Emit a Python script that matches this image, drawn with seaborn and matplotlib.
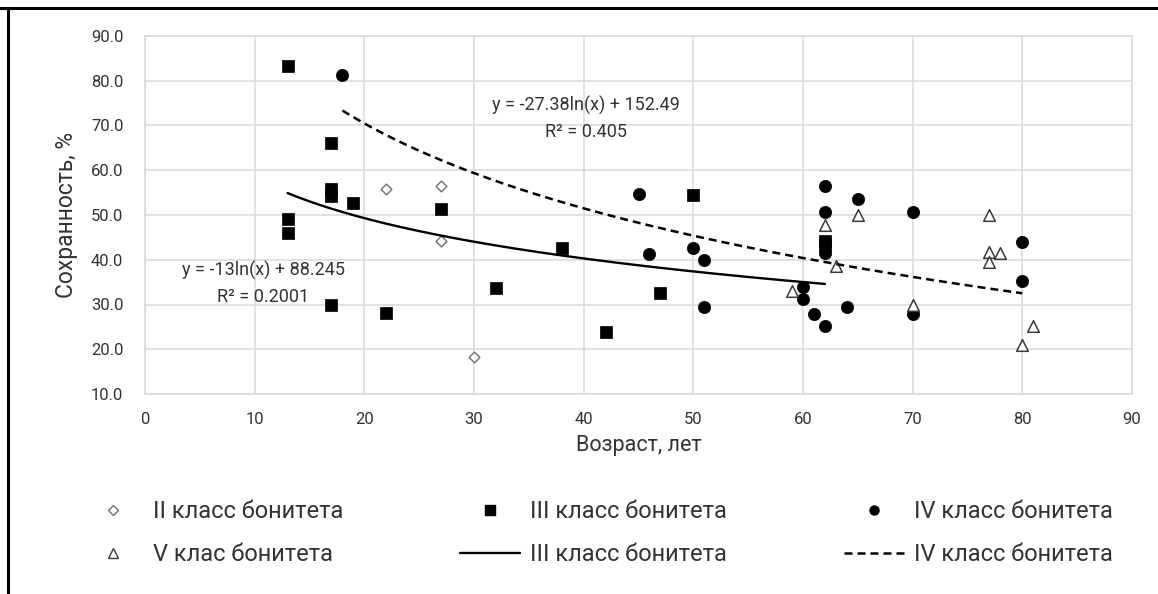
import numpy as np
import pandas as pd
import matplotlib
matplotlib.use("Agg")
import matplotlib.pyplot as plt
import seaborn as sns
from matplotlib.lines import Line2D
from matplotlib.ticker import FormatStrFormatter

# ---- data ----
ii_age = [22, 27, 27, 30]
ii_val = [55.8, 56.5, 44.2, 18.2]

iii_age = [13, 13, 13, 17, 17, 17, 17, 19, 22, 27, 32, 38, 42, 47, 50, 62, 62]
iii_val = [83.3, 49.0, 46.0, 66.0, 55.9, 54.2, 30.0, 52.6, 28.1, 51.3, 33.6,
           42.6, 23.9, 32.6, 54.5, 44.3, 43.3]

iv_age = [18, 45, 46, 50, 51, 51, 60, 60, 61, 62, 62, 62, 62, 64, 65, 70, 70, 80, 80]
iv_val = [81.2, 54.8, 41.3, 42.6, 40.0, 29.4, 34.0, 31.2, 27.8, 56.4, 50.6,
          41.4, 25.2, 29.4, 53.5, 50.6, 27.8, 43.9, 35.2]

v_age = [59, 62, 63, 65, 70, 77, 77, 77, 78, 80, 81]
v_val = [33.0, 47.8, 38.6, 50.0, 30.0, 50.0, 41.8, 39.6, 41.6, 21.0, 25.1]

# logarithmic trend coefficients (y = a*ln(x) + b) shown on the chart
iii_a, iii_b, iii_r2 = -13.0, 88.245, 0.2001
iv_a, iv_b, iv_r2 = -27.38, 152.49, 0.405

x_ticks = list(range(0, 91, 10))
y_ticks = list(range(10, 91, 10))

labels = ["II класс бонитета", "III класс бонитета", "IV класс бонитета",
          "V клас бонитета", "III класс бонитета", "IV класс бонитета"]

# ---- style ----
sns.set_theme(style="white")
plt.rcParams["font.family"] = ["Roboto", "DejaVu Sans"]
txt = "#333333"

W, H = 1158, 594
fig = plt.figure(figsize=(W / 100, H / 100), dpi=100)
ax = fig.add_axes([145 / W, 1 - 394 / H, (1132 - 145) / W, (394 - 36) / H])

grid_c = "#d9d9d9"
ax.grid(True, color=grid_c, lw=1.1)
ax.set_axisbelow(True)
for s in ax.spines.values():
    s.set_color(grid_c)
    s.set_linewidth(1.1)

# scatter points
sns.scatterplot(x=ii_age, y=ii_val, ax=ax, marker="D", s=30, color="white",
                edgecolor="#6e6e6e", linewidth=1.0, zorder=3, legend=False)
sns.scatterplot(x=iii_age, y=iii_val, ax=ax, marker="s", s=72, color="black",
                edgecolor="black", linewidth=0.5, zorder=3, legend=False)
sns.scatterplot(x=iv_age, y=iv_val, ax=ax, marker="o", s=78, color="black",
                edgecolor="black", linewidth=0.5, zorder=3, legend=False)
sns.scatterplot(x=v_age, y=v_val, ax=ax, marker="^", s=70, color="white",
                edgecolor="#3a3a3a", linewidth=1.1, zorder=3, legend=False)

# trend lines
xs3 = np.linspace(min(iii_age), max(iii_age), 200)
sns.lineplot(x=xs3, y=iii_a * np.log(xs3) + iii_b, ax=ax, color="black",
             lw=1.7, zorder=4)
xs4 = np.linspace(min(iv_age), max(iv_age), 200)
sns.lineplot(x=xs4, y=iv_a * np.log(xs4) + iv_b, ax=ax, color="black",
             lw=1.8, linestyle=(0, (3.2, 2.0)), zorder=4)

ax.set_xlim(0, 90)
ax.set_ylim(10, 90)
ax.set_xticks(x_ticks)
ax.set_yticks(y_ticks)
ax.yaxis.set_major_formatter(FormatStrFormatter("%.1f"))
ax.tick_params(length=0, labelsize=12, colors=txt)
ax.tick_params(axis="y", pad=15.5)
ax.tick_params(axis="x", pad=13)

ax.set_xlabel("Возраст, лет", fontsize=15.5, color=txt)
ax.set_ylabel("Сохранность, %", fontsize=16.5, color=txt)
ax.xaxis.set_label_coords(0.5, (394 - 446) / 358)
ax.xaxis.label.set_va("center")
ax.yaxis.set_label_coords((66 - 145) / 987, 0.5)
ax.yaxis.label.set_va("center")

# trend equations
eq_fs = 13
ax.text(10.8, 37.6, f"y = {iii_a:g}ln(x) + {iii_b:g}", ha="center", va="center",
        fontsize=eq_fs, color=txt)
ax.text(10.8, 31.6, f"R² = {iii_r2:g}", ha="center", va="center",
        fontsize=eq_fs, color=txt)
ax.text(40.2, 74.6, f"y = {iv_a:g}ln(x) + {iv_b:g}", ha="center", va="center",
        fontsize=eq_fs, color=txt)
ax.text(40.2, 68.6, f"R² = {iv_r2:g}", ha="center", va="center",
        fontsize=eq_fs, color=txt)

# legend (column-major order for a 2 x 3 layout)
h_ii = Line2D([], [], ls="none", marker="D", ms=5, mfc="white", mec="#6e6e6e", mew=1)
h_iii = Line2D([], [], ls="none", marker="s", ms=6.5, mfc="black", mec="black")
h_iv = Line2D([], [], ls="none", marker="o", ms=6.5, mfc="black", mec="black")
h_v = Line2D([], [], ls="none", marker="^", ms=6.5, mfc="white", mec="#3a3a3a", mew=1)
h_l3 = Line2D([], [], color="black", lw=1.7)
h_l4 = Line2D([], [], color="black", lw=1.8, ls=(0, (3.2, 2.0)))
handles = [h_ii, h_v, h_iii, h_l3, h_iv, h_l4]
leg_labels = [labels[0], labels[3], labels[1], labels[4], labels[2], labels[5]]
leg = fig.legend(handles, leg_labels, ncol=3, loc="center", mode="expand",
                 bbox_to_anchor=(83 / W, 1 - 600 / H, (1113 - 83) / W, 134 / H),
                 frameon=False, fontsize=17, handlelength=2.5,
                 handletextpad=0.45, labelspacing=0.85, borderpad=0,
                 borderaxespad=0)
for t in leg.get_texts():
    t.set_color(txt)

# screenshot frame (top and left edges)
fig.add_artist(Line2D([0, 1], [1 - 8 / H, 1 - 8 / H], color="black", lw=2.2,
                      transform=fig.transFigure))
fig.add_artist(Line2D([8 / W, 8 / W], [0, 1 - 8 / H], color="black", lw=2.2,
                      transform=fig.transFigure))

fig.savefig("out.png", dpi=100, facecolor="white")
